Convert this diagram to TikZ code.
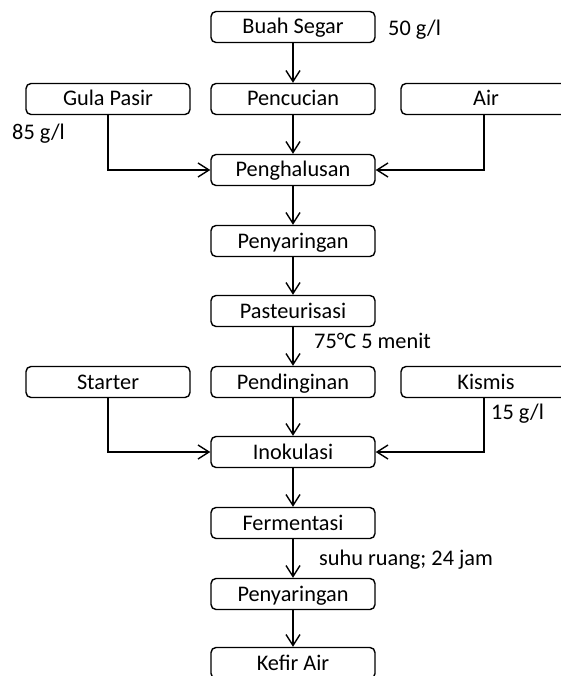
\documentclass[tikz,border=0pt]{standalone}
\usepackage{fontspec}
\setmainfont{Carlito}
\usetikzlibrary{arrows.meta}
\begin{document}
\begin{tikzpicture}[x=1pt,y=-1pt,
  box/.style={draw, line width=1.4pt, rounded corners=5pt, minimum width=164pt, minimum height=31pt, inner sep=0pt, text height=15pt, text depth=1pt, font=\fontsize{22.3}{26}\selectfont},
  wide/.style={box, minimum width=170pt},
  lbl/.style={anchor=base west, inner sep=0pt, font=\fontsize{22.3}{26}\selectfont},
  arr/.style={line width=1.4pt, -{Straight Barb[length=11pt,width=14pt,line width=1.4pt]}}]
\useasboundingbox (0,0) rectangle (561,676);
\fill[white] (0,0) rectangle (561,676);
\node[box] (buah) at (293,27) {Buah Segar};
\node[box] (cuci) at (293,99) {Pencucian};
\node[box] (gula) at (108,99) {Gula Pasir};
\node[wide] (air) at (486,99) {Air};
\node[box] (halus) at (293,170) {Penghalusan};
\node[box] (saring1) at (293,241) {Penyaringan};
\node[box] (past) at (293,311) {Pasteurisasi};
\node[box] (dingin) at (293,382) {Pendinginan};
\node[box] (starter) at (108,382) {Starter};
\node[wide] (kismis) at (486,382) {Kismis};
\node[box] (inok) at (293,452) {Inokulasi};
\node[box] (ferm) at (293,523) {Fermentasi};
\node[box] (saring2) at (293,594) {Penyaringan};
\node[box] (kefir) at (293,663) {Kefir Air};
\draw[arr] (buah) -- (cuci);
\draw[arr] (cuci) -- (halus);
\draw[arr] (halus) -- (saring1);
\draw[arr] (saring1) -- (past);
\draw[arr] (past) -- (dingin);
\draw[arr] (dingin) -- (inok);
\draw[arr] (inok) -- (ferm);
\draw[arr] (ferm) -- (saring2);
\draw[arr] (saring2) -- (kefir);
\draw[arr] (gula.south) |- (halus.west);
\draw[arr] (air.south -| 484,0) |- (halus.east);
\draw[arr] (starter.south) |- (inok.west);
\draw[arr] (kismis.south -| 484,0) |- (inok.east);
\node[lbl] (l50) at (388,36) {50 g/l};
\node[lbl] (l85) at (12,140) {85 g/l};
\node[lbl] (l75) at (314,348) {75°C 5 menit};
\node[lbl] (l15) at (491,419) {15 g/l};
\node[lbl] (lsuhu) at (319,565) {suhu ruang; 24 jam};
\end{tikzpicture}
\end{document}
